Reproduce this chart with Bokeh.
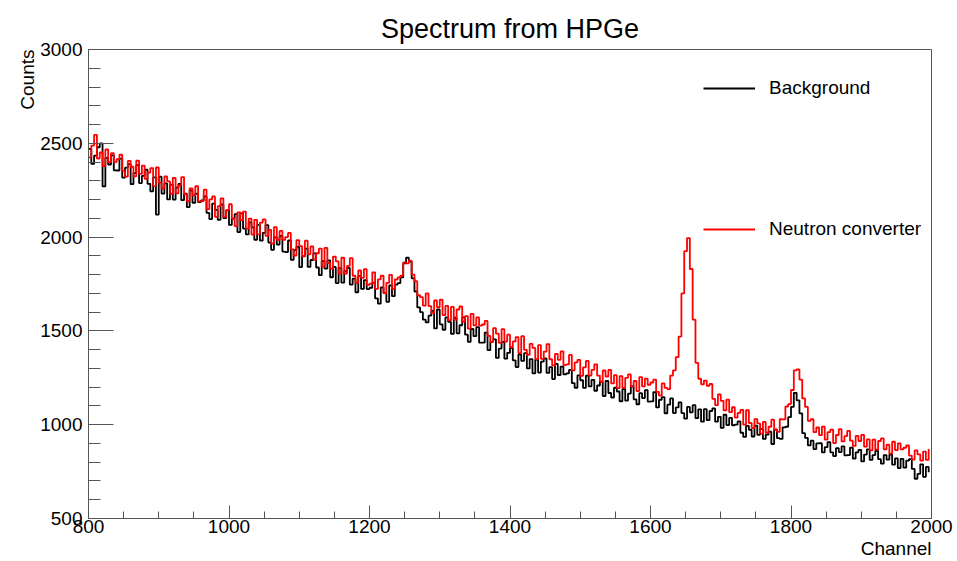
from bokeh.plotting import figure
from bokeh.models import Range1d, FixedTicker, Legend, LegendItem, Title
from bokeh.embed import file_html
from bokeh.resources import INLINE

# bin start channels (4-channel bins)
channels = list(range(800, 2000, 4))

background = [
    2470, 2390, 2434, 2479, 2500, 2270, 2422, 2387, 2436, 2356,
    2355, 2418, 2317, 2370, 2389, 2282, 2341, 2384, 2288, 2326,
    2360, 2284, 2244, 2318, 2120, 2322, 2232, 2286, 2201, 2280,
    2200, 2264, 2283, 2197, 2231, 2160, 2249, 2183, 2232, 2186,
    2195, 2217, 2129, 2096, 2178, 2145, 2092, 2174, 2101, 2143,
    2065, 2099, 2123, 2027, 2126, 2045, 2014, 2078, 2052, 1986,
    2065, 1981, 2023, 2064, 1971, 1932, 1999, 1960, 2007, 1923,
    1920, 1982, 1879, 1931, 1948, 1840, 1897, 1939, 1841, 1878,
    1913, 1838, 1797, 1872, 1832, 1876, 1786, 1841, 1755, 1835,
    1757, 1819, 1836, 1747, 1779, 1706, 1793, 1724, 1771, 1723,
    1730, 1757, 1673, 1645, 1732, 1703, 1655, 1742, 1685, 1747,
    1755, 1785, 1860, 1890, 1870, 1780, 1710, 1625, 1600, 1560,
    1545, 1581, 1607, 1513, 1614, 1535, 1506, 1572, 1548, 1484,
    1570, 1487, 1530, 1572, 1480, 1442, 1510, 1472, 1520, 1437,
    1437, 1491, 1397, 1442, 1455, 1356, 1406, 1442, 1352, 1383,
    1410, 1343, 1307, 1375, 1340, 1381, 1300, 1350, 1274, 1347,
    1278, 1336, 1353, 1276, 1307, 1243, 1324, 1265, 1310, 1268,
    1274, 1292, 1222, 1197, 1263, 1237, 1196, 1262, 1204, 1239,
    1181, 1209, 1229, 1153, 1233, 1169, 1145, 1197, 1177, 1125,
    1190, 1128, 1166, 1205, 1135, 1109, 1168, 1142, 1184, 1123,
    1124, 1174, 1092, 1133, 1147, 1061, 1107, 1140, 1062, 1092,
    1119, 1062, 1032, 1095, 1066, 1104, 1035, 1082, 1016, 1083,
    1024, 1073, 1087, 1016, 1042, 983, 1053, 998, 1036, 997,
    1000, 1018, 957, 935, 994, 973, 937, 995, 946, 977,
    924, 947, 963, 897, 974, 928, 924, 986, 989, 1040,
    1095, 1170, 1130, 1060, 955, 930, 890, 915, 870, 900,
    901, 853, 880, 907, 853, 833, 875, 854, 884, 836,
    838, 878, 819, 853, 866, 804, 841, 869, 813, 838,
    861, 816, 792, 838, 814, 841, 787, 820, 769, 818,
    771, 808, 817, 764, 712, 738, 789, 722, 775, 746,
]

neutron = [
    2425, 2488, 2545, 2419, 2451, 2379, 2467, 2400, 2447, 2400,
    2415, 2439, 2353, 2322, 2406, 2375, 2324, 2408, 2337, 2381,
    2310, 2344, 2368, 2272, 2371, 2290, 2259, 2323, 2297, 2231,
    2315, 2233, 2276, 2320, 2228, 2191, 2260, 2223, 2271, 2190,
    2192, 2253, 2149, 2201, 2217, 2108, 2165, 2206, 2107, 2144,
    2175, 2099, 2058, 2132, 2091, 2136, 2045, 2099, 2013, 2092,
    2015, 2077, 2094, 2007, 2039, 1966, 2053, 1986, 2033, 1985,
    2000, 2022, 1935, 1902, 1984, 1952, 1899, 1981, 1908, 1950,
    1880, 1914, 1939, 1843, 1943, 1862, 1832, 1896, 1871, 1805,
    1890, 1806, 1847, 1888, 1794, 1756, 1822, 1783, 1829, 1745,
    1752, 1812, 1724, 1775, 1794, 1701, 1756, 1799, 1724, 1774,
    1785, 1795, 1865, 1860, 1875, 1800, 1765, 1690, 1680, 1635,
    1700, 1632, 1595, 1662, 1626, 1666, 1584, 1633, 1556, 1628,
    1560, 1614, 1630, 1550, 1579, 1512, 1591, 1529, 1572, 1528,
    1534, 1553, 1473, 1442, 1515, 1485, 1436, 1509, 1443, 1480,
    1413, 1444, 1467, 1381, 1472, 1399, 1373, 1431, 1409, 1350,
    1424, 1351, 1390, 1430, 1349, 1316, 1378, 1346, 1391, 1318,
    1322, 1372, 1290, 1332, 1346, 1260, 1306, 1340, 1262, 1292,
    1322, 1262, 1229, 1289, 1257, 1292, 1220, 1264, 1195, 1259,
    1196, 1250, 1268, 1203, 1233, 1179, 1254, 1204, 1246, 1213,
    1225, 1240, 1175, 1155, 1220, 1196, 1190, 1262, 1290, 1360,
    1470, 1700, 1925, 1995, 1830, 1560, 1330, 1245, 1215, 1235,
    1207, 1217, 1138, 1104, 1161, 1127, 1076, 1134, 1067, 1093,
    1038, 1063, 1079, 1000, 1077, 1009, 982, 1030, 1007, 952,
    1015, 957, 989, 1027, 975, 962, 1029, 1028, 1097, 1110,
    1185, 1290, 1295, 1240, 1140, 1095, 1020, 1030, 960, 985,
    944, 990, 920, 960, 974, 902, 945, 976, 911, 939,
    967, 915, 887, 940, 913, 946, 883, 922, 863, 920,
    867, 913, 927, 868, 893, 846, 909, 864, 900, 868,
    877, 889, 835, 814, 863, 842, 809, 857, 812, 870,
]

x_major = [800, 1000, 1200, 1400, 1600, 1800, 2000]
x_minor = list(range(800, 2001, 50))
y_major = [500, 1000, 1500, 2000, 2500, 3000]
y_minor = list(range(500, 3001, 100))

FONT = "Liberation Sans"
AX = "#555555"

p = figure(width=957, height=561, output_backend="svg", toolbar_location=None,
           x_range=Range1d(800, 2000), y_range=Range1d(500, 3000),
           min_border_left=88, min_border_right=26, min_border_top=49,
           min_border_bottom=43)

p.title.text = "Spectrum from HPGe"
p.title.align = "center"
p.title.text_font = FONT
p.title.text_font_size = "27px"
p.title.text_font_style = "normal"
p.title.text_color = "black"
p.title.standoff = 11

p.xgrid.visible = False
p.ygrid.visible = False
p.outline_line_color = AX
p.outline_line_width = 1
p.background_fill_color = "white"
p.border_fill_color = "white"

xa = p.xaxis[0]
xa.ticker = FixedTicker(ticks=x_major, minor_ticks=x_minor)
xa.major_tick_in = 13
xa.major_tick_out = 0
xa.minor_tick_in = 7
xa.minor_tick_out = 0
xa.major_label_standoff = 1
ya = p.yaxis[0]
ya.ticker = FixedTicker(ticks=y_major, minor_ticks=y_minor)
ya.major_tick_in = 25
ya.major_tick_out = 0
ya.minor_tick_in = 12
ya.minor_tick_out = 0
ya.major_label_standoff = 6
for ax in (xa, ya):
    ax.axis_line_color = AX
    ax.major_tick_line_color = AX
    ax.minor_tick_line_color = AX
    ax.major_label_text_font = FONT
    ax.major_label_text_font_size = "19px"
    ax.major_label_text_color = "black"

r_bg = p.step(channels, background, mode="after", line_color="black", line_width=1.8)
r_n = p.step(channels, neutron, mode="after", line_color="#ff0000", line_width=1.8)

legend = Legend(items=[LegendItem(label="Background", renderers=[r_bg]),
                       LegendItem(label="Neutron converter", renderers=[r_n])],
                location=(615, 278), glyph_width=52, glyph_height=20,
                label_height=20, label_standoff=14, spacing=119, padding=0,
                margin=0, border_line_alpha=0, background_fill_alpha=0,
                label_text_font=FONT, label_text_font_size="19px",
                label_text_color="black")
p.add_layout(legend)

p.add_layout(Title(text="Channel", align="right", text_font=FONT,
                   text_font_size="19px", text_font_style="normal",
                   text_color="black", standoff=0, offset=0), "below")
p.add_layout(Title(text="Counts", align="right", text_font=FONT,
                   text_font_size="19px", text_font_style="normal",
                   text_color="black", standoff=0, offset=0), "left")

open("out.html", "w").write(file_html(p, INLINE))
